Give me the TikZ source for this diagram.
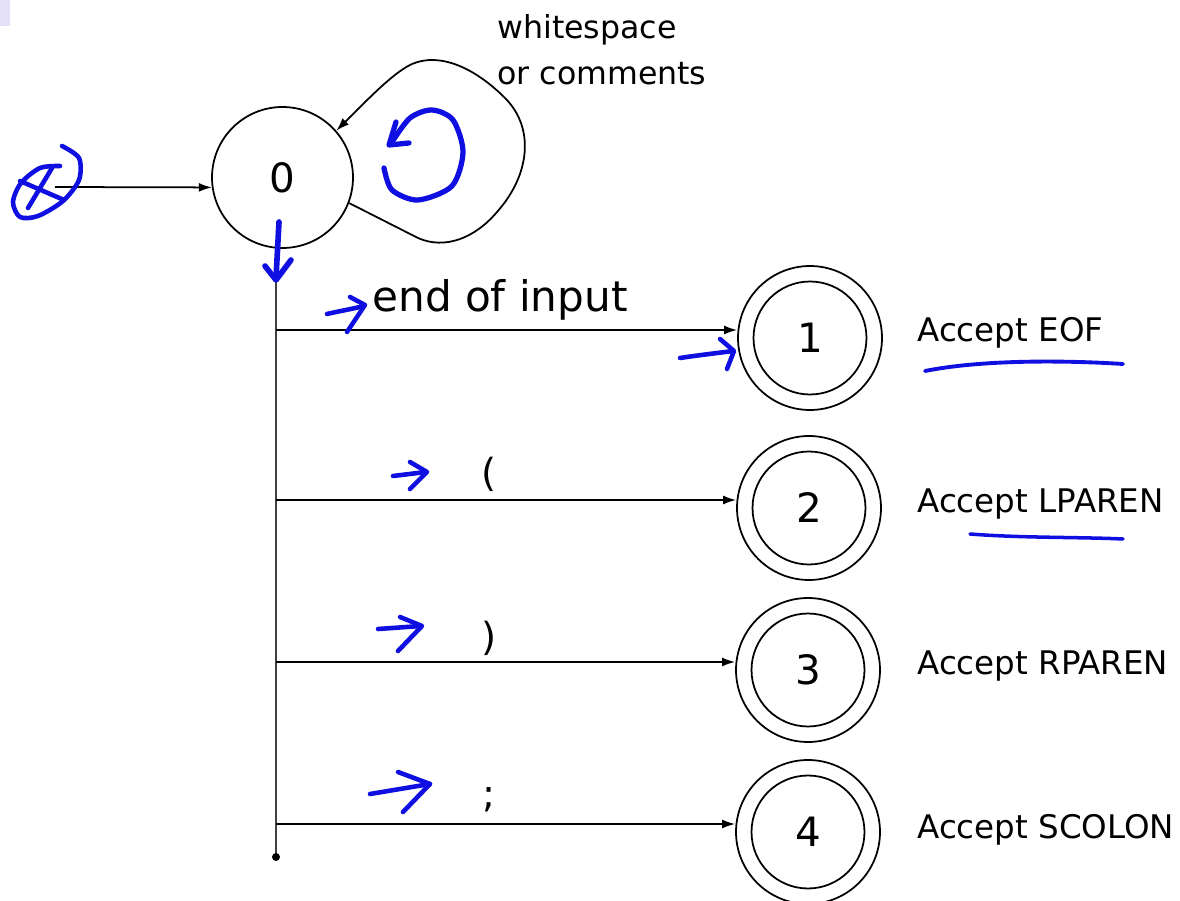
\documentclass[tikz,border=0pt]{standalone}
\usepackage{fontspec}
\setmainfont{DejaVu Sans}
\usetikzlibrary{arrows.meta}
\definecolor{pen}{RGB}{15,15,225}
\definecolor{lav}{RGB}{228,224,248}
\begin{document}
\begin{tikzpicture}[x=0.02cm,y=-0.02cm,
  state/.style={circle,draw,line width=1pt,minimum size=2.82cm,inner sep=0pt,font=\fontsize{23}{27}\selectfont},
  accstate/.style={circle,draw,line width=1pt,minimum size=2.88cm,inner sep=0pt,font=\fontsize{23}{27}\selectfont},
  innerring/.style={draw,line width=1pt},
  arr/.style={line width=1pt,-{Latex[length=0.26cm,width=0.18cm]}},
  trunk/.style={line width=1.3pt,black!75},
  hand/.style={pen,line width=2.6pt,line cap=round,line join=round},
  lbl/.style={font=\fontsize{18.5}{22}\selectfont,anchor=base west,inner sep=0pt},
  sym/.style={font=\fontsize{22}{26}\selectfont,inner sep=0pt}]
\useasboundingbox (0,0) rectangle (1180,901);
\fill[lav] (0,0) rectangle (10,26);

% states
\node[state] (s0) at (282.5,177.5) {0};
\node[accstate] (s1) at (810,338) {1};
\node[accstate] (s2) at (809,508) {2};
\node[accstate] (s3) at (808,670) {3};
\node[accstate] (s4) at (808,832) {4};
\foreach \s in {s1,s2,s3,s4}{\draw[innerring] (\s.center) circle[radius=1.13cm];}

% initial arrow
\coordinate (init) at (55,187);
\draw[arr] (init) -- (s0.188);

% self loop
\draw[arr] (s0.-21) -- (418,238) .. controls (445,250) and (475,238) .. (497,212)
  .. controls (530,175) and (535,128) .. (505,98)
  .. controls (475,68) and (440,52) .. (412,64)
  .. controls (395,72) and (375,92) .. (s0.41);
\node[font=\fontsize{18}{26}\selectfont,align=left,anchor=west,inner sep=0pt] (ws) at (497,50) {whitespace\\or comments};

% trunk
\coordinate (vtop) at (276,247);
\coordinate (vbot) at (276,857);
\draw[trunk] (vtop) -- (vbot);
\fill (vbot) circle[radius=0.08cm];
\coordinate (b1) at (276,330);
\coordinate (b2) at (276,500);
\coordinate (b3) at (276,662);
\coordinate (b4) at (276,824);
\draw[arr] (b1) -- (b1 -| s1.west);
\draw[arr] (b2) -- (b2 -| s2.west);
\draw[arr] (b3) -- (b3 -| s3.west);
\draw[arr] (b4) -- (b4 -| s4.west);

% edge labels
\node[font=\fontsize{24}{28}\selectfont,anchor=base west,inner sep=0pt] (eoi) at (372,312) {end of input};
\node[sym] (lp) at (489,474) {(};
\node[sym] (rp) at (489,638) {)};
\node[sym] (sc) at (489,800) {;};

% accept labels
\node[lbl] (a1) at (917,342) {Accept EOF};
\node[lbl] (a2) at (917,513) {Accept LPAREN};
\node[lbl] (a3) at (917,675) {Accept RPAREN};
\node[lbl] (a4) at (917,838) {Accept SCOLON};

% ---- hand-drawn annotations ----
% start scribble
\draw[hand] plot[smooth] coordinates {(62,146) (79,158) (79,180) (63,201) (38,216) (20,217) (13,202) (21,183) (40,168) (60,166)};
\draw[hand] (20,181) -- (64,200);
\draw[hand] (28,208) -- (52,168);
% down arrow
\draw[hand,line width=3.2pt] (279,222) -- (276,278);
\draw[hand,line width=3.2pt] (265,266) -- (276,280) -- (291,260);
% curl in loop
\draw[hand,line width=3pt] plot[smooth] coordinates {(384,168) (392,190) (418,200) (452,186) (463,152) (453,120) (432,110) (410,118) (392,142)};
\draw[hand,line width=3pt] (396,122) -- (389,145) -- (409,143);
% arrows near labels
\draw[hand] (327,314) .. controls (340,311) and (352,309) .. (364,306);
\draw[hand] (350,297) -- (365,305) -- (347,332);
\draw[hand] (680,358) .. controls (700,355) and (718,353) .. (733,351);
\draw[hand] (720,339) -- (734,351) -- (727,369);
\draw[hand] (393,476) -- (426,472);
\draw[hand] (410,462) -- (427,472) -- (410,489);
\draw[hand] (378,629) -- (421,626);
\draw[hand] (400,617) -- (422,626) -- (398,651);
\draw[hand] (370,794) -- (430,784);
\draw[hand] (398,772) -- (430,784) -- (403,812);
% underlines
\draw[pen,line width=2.2pt,line cap=round] (925,371) .. controls (980,360) and (1060,360) .. (1123,364);
\draw[pen,line width=2pt,line cap=round] (970,534) .. controls (1020,538) and (1080,537) .. (1123,539);
\end{tikzpicture}
\end{document}
